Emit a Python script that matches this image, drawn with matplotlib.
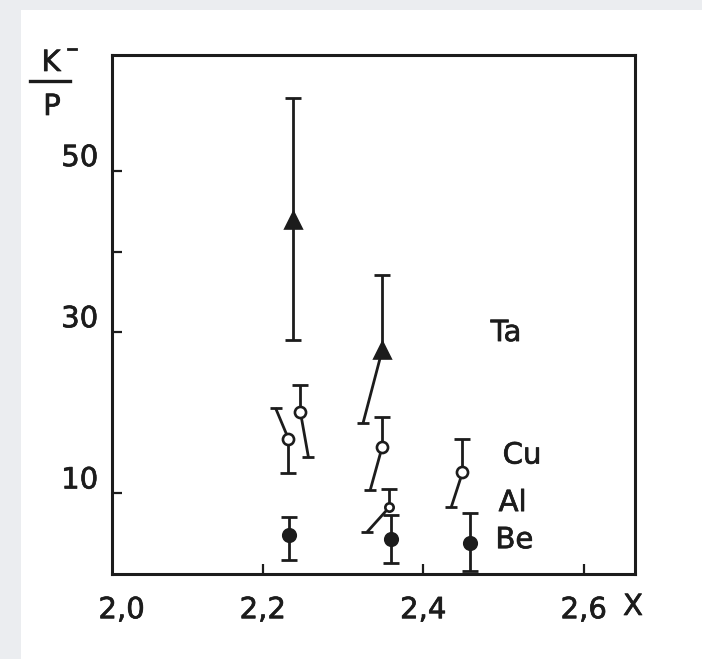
import numpy as np
import matplotlib.pyplot as plt
from matplotlib.patches import Rectangle
from matplotlib.lines import Line2D
import matplotlib.transforms as mtransforms
import matplotlib.patheffects as pe

nan = np.nan

# --- datos ---
# Ta (triangulos llenos)
ta_x = [2.238, 2.349]
ta_y = [43.9, 27.8]
ta_hi = [59.1, 37.1]
ta_lo = [29.0, nan]
ta_slant_x = [nan, 2.325]
ta_slant_y = [nan, 18.7]

# Cu (circulos abiertos)
cu_x = [2.247, 2.232, 2.349, 2.449]
cu_y = [20.1, 16.8, 15.8, 12.6]
cu_hi = [23.4, nan, 19.5, 16.7]
cu_lo = [nan, 12.5, nan, nan]
cu_slant_x = [2.257, 2.216, 2.334, 2.435]
cu_slant_y = [14.5, 20.6, 10.4, 8.3]

# Al (circulo abierto chico)
al_x = [2.358]
al_y = [8.3]
al_hi = [10.6]
al_lo = [nan]
al_slant_x = [2.330]
al_slant_y = [5.2]

# Be (circulos llenos)
be_x = [2.233, 2.360, 2.458]
be_y = [4.8, 4.4, 3.8]
be_hi = [7.1, 7.3, 7.6]
be_lo = [1.7, 1.4, 0.4]
be_slant_x = [nan, nan, nan]
be_slant_y = [nan, nan, nan]

labels = ["Ta", "Cu", "Al", "Be"]
label_x = [2.484, 2.499, 2.494, 2.490]
label_y = [29.9, 14.7, 8.8, 4.2]

xticks = [2.024, 2.2, 2.4, 2.6]
xticklabels = ["2,0", "2,2", "2,4", "2,6"]
yticks = [10, 30, 50]
yminor = [40]

INK = "#1c1c1c"
W, H = 702, 659
thick = [pe.withStroke(linewidth=0.5, foreground=INK)]

fig = plt.figure(figsize=(W / 100, H / 100), dpi=100, facecolor="#ebedf0")
fig.add_artist(Rectangle((21 / W, 0), 1 - 21 / W, 1 - 10 / H,
                         transform=fig.transFigure, facecolor="white",
                         edgecolor="none", zorder=-10))

ax = fig.add_axes([112 / W, 1 - 574 / H, (635 - 112) / W, (574 - 55) / H])
ax.set_xlim(2.0122, 2.664)
ax.set_ylim(0, 64.4)
for s in ax.spines.values():
    s.set_linewidth(2.2)
    s.set_color(INK)


def draw_series(x, y, hi, lo, sx, sy, marker, ms, filled):
    x = np.array(x); y = np.array(y)
    hi = np.array(hi); lo = np.array(lo)
    sx = np.array(sx); sy = np.array(sy)
    top = np.where(np.isnan(hi), y, hi)
    bot = np.where(np.isnan(lo), y, lo)
    ax.vlines(x, bot, top, color=INK, lw=2.0, zorder=2)
    m = ~np.isnan(hi)
    ax.plot(x[m], hi[m], ls="none", marker="_", ms=11, mew=2.0, color=INK, zorder=2)
    m = ~np.isnan(lo)
    ax.plot(x[m], lo[m], ls="none", marker="_", ms=11, mew=2.0, color=INK, zorder=2)
    for xi, yi, a, b in zip(x, y, sx, sy):
        if np.isnan(a):
            continue
        ax.plot([xi, a], [yi, b], color=INK, lw=2.0, solid_capstyle="butt", zorder=2)
        ax.plot([a], [b], ls="none", marker="_", ms=8, mew=2.0, color=INK, zorder=2)
    ax.plot(x, y, ls="none", marker=marker, ms=ms,
            mfc=INK if filled else "white", mec=INK, mew=1.9, zorder=3)


draw_series(ta_x, ta_y, ta_hi, ta_lo, ta_slant_x, ta_slant_y, "^", 11, True)
draw_series(cu_x, cu_y, cu_hi, cu_lo, cu_slant_x, cu_slant_y, "o", 8, False)
draw_series(al_x, al_y, al_hi, al_lo, al_slant_x, al_slant_y, "o", 6, False)
draw_series(be_x, be_y, be_hi, be_lo, be_slant_x, be_slant_y, "o", 9, True)

for t, lx, ly in zip(labels, label_x, label_y):
    ax.text(lx, ly, t, fontsize=21, color=INK, ha="left", va="center",
            path_effects=thick)

# ticks
ax.set_xticks(xticks)
ax.set_xticklabels(xticklabels)
ax.xaxis.get_major_ticks()[0].tick1line.set_visible(False)
ax.set_yticks(yticks)
ax.set_yticks(yminor, minor=True)
ax.tick_params(axis="both", which="both", direction="in", length=7, width=1.6,
               color=INK, labelcolor=INK, labelsize=21, top=False, right=False)
ax.tick_params(axis="x", pad=16)
ax.tick_params(axis="y", pad=10)
off = mtransforms.ScaledTranslation(0, 0.16, fig.dpi_scale_trans)
for lab in ax.get_yticklabels():
    lab.set_transform(lab.get_transform() + off)
for lab in ax.get_xticklabels() + ax.get_yticklabels():
    lab.set_path_effects(thick)

# etiqueta eje x
fig.text(633 / W, 1 - 607 / H, "X", fontsize=21, color=INK, ha="center",
         va="center", path_effects=thick)

# etiqueta eje y: K-/P
fig.text(51 / W, 1 - 63 / H, "K", fontsize=21, color=INK, ha="center",
         va="center", path_effects=thick)
fig.add_artist(Line2D([68 / W, 76 / W], [1 - 49 / H, 1 - 49 / H],
                      transform=fig.transFigure, color=INK, lw=2.0))
fig.add_artist(Line2D([30 / W, 70 / W], [1 - 81 / H, 1 - 81 / H],
                      transform=fig.transFigure, color=INK, lw=2.4))
fig.text(52 / W, 1 - 107 / H, "P", fontsize=21, color=INK, ha="center",
         va="center", path_effects=thick)

fig.savefig("out.png", dpi=100, facecolor=fig.get_facecolor())
